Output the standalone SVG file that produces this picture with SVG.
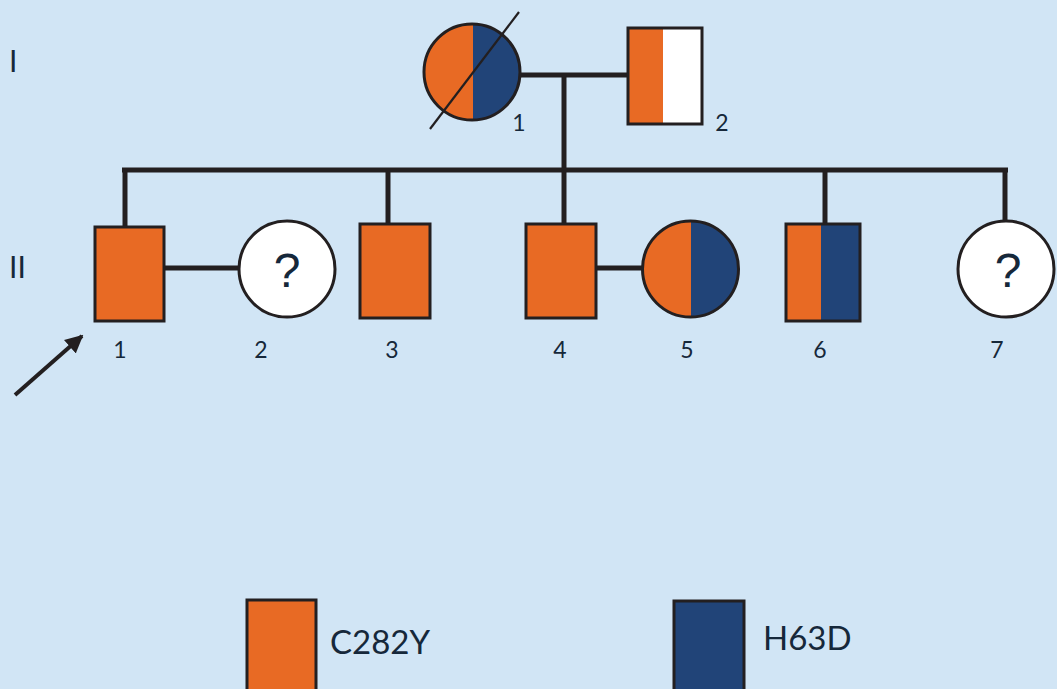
<svg xmlns="http://www.w3.org/2000/svg" width="1057" height="689" viewBox="0 0 1057 689">
<defs>
<style>
.o{fill:#e86a24}
.b{fill:#214478}
.w{fill:#ffffff}
.ol{fill:none;stroke:#231f20;stroke-width:3}
.ln{fill:none;stroke:#231f20;stroke-width:5}
.t{font-family:Lato,"Liberation Sans",sans-serif;fill:#16283a}
.lab{font-size:23px;text-anchor:middle}
.gen{font-size:30px}
text.q{font-family:"Liberation Sans",sans-serif;font-size:48px;font-weight:400;text-anchor:middle}
.leg{font-size:33px}
</style>
<clipPath id="c1"><circle cx="472" cy="72" r="48"/></clipPath>
<clipPath id="c5"><circle cx="690.5" cy="269" r="48"/></clipPath>
<marker id="ah" viewBox="0 0 10 10" refX="9" refY="5" markerWidth="4.5" markerHeight="4.5" orient="auto" markerUnits="strokeWidth"><path d="M0,0 L10,5 L0,10 z" fill="#231f20"/></marker>
</defs>
<rect width="1057" height="689" fill="#d1e5f5"/>
<g id="connectors">
<line class="ln" x1="520" y1="75" x2="628" y2="75"/>
<line class="ln" x1="564" y1="75" x2="564" y2="170"/>
<line class="ln" x1="122" y1="170" x2="1008" y2="170"/>
<line class="ln" x1="125" y1="170" x2="125" y2="227"/>
<line class="ln" x1="388" y1="170" x2="388" y2="224"/>
<line class="ln" x1="564" y1="170" x2="564" y2="224"/>
<line class="ln" x1="825" y1="170" x2="825" y2="224"/>
<line class="ln" x1="1005" y1="170" x2="1005" y2="221"/>
<line class="ln" x1="164" y1="268" x2="239" y2="268"/>
<line class="ln" x1="596" y1="268" x2="642" y2="268"/>
</g>
<g id="gen-labels">
<text class="t gen" x="9" y="72">I</text>
<text class="t gen" x="9" y="278">II</text>
</g>
<g id="I-1">
<g clip-path="url(#c1)">
<rect class="o" x="420" y="20" width="53" height="110"/>
<rect class="b" x="473" y="20" width="52" height="110"/>
</g>
<circle class="ol" cx="472" cy="72" r="48"/>
<line x1="430" y1="129" x2="519" y2="12" stroke="#231f20" stroke-width="2.2"/>
<text class="t lab" x="519" y="131">1</text>
</g>
<g id="I-2">
<rect class="o" x="628" y="28" width="35" height="96"/>
<rect class="w" x="663" y="28" width="39" height="96"/>
<rect class="ol" x="628" y="28" width="74" height="96"/>
<text class="t lab" x="722" y="131">2</text>
</g>
<g id="II-1">
<rect class="ol" x="95" y="227" width="69" height="94" style="fill:#e86a24"/>
<text class="t lab" x="120" y="358">1</text>
<line x1="15" y1="395" x2="82" y2="336" stroke="#231f20" stroke-width="4" marker-end="url(#ah)"/>
</g>
<g id="II-2">
<circle class="ol" cx="287" cy="269" r="48" style="fill:#ffffff"/>
<text class="t q" x="287" y="287">?</text>
<text class="t lab" x="261" y="358">2</text>
</g>
<g id="II-3">
<rect class="ol" x="360" y="224" width="70" height="94" style="fill:#e86a24"/>
<text class="t lab" x="392" y="358">3</text>
</g>
<g id="II-4">
<rect class="ol" x="526" y="224" width="70" height="94" style="fill:#e86a24"/>
<text class="t lab" x="560" y="358">4</text>
</g>
<g id="II-5">
<g clip-path="url(#c5)">
<rect class="o" x="640" y="218" width="51" height="104"/>
<rect class="b" x="691" y="218" width="52" height="104"/>
</g>
<circle class="ol" cx="690.5" cy="269" r="48"/>
<text class="t lab" x="687" y="358">5</text>
</g>
<g id="II-6">
<rect class="o" x="786" y="224" width="35" height="97"/>
<rect class="b" x="821" y="224" width="39" height="97"/>
<rect class="ol" x="786" y="224" width="74" height="97"/>
<text class="t lab" x="820" y="358">6</text>
</g>
<g id="II-7">
<circle class="ol" cx="1006" cy="269" r="48" style="fill:#ffffff"/>
<text class="t q" x="1008" y="287">?</text>
<text class="t lab" x="997" y="358">7</text>
</g>
<g id="legend-C282Y">
<rect class="ol" x="247" y="600" width="69" height="100" style="fill:#e86a24"/>
<text class="t leg" x="330" y="654">C282Y</text>
</g>
<g id="legend-H63D">
<rect class="ol" x="674" y="601" width="70" height="100" style="fill:#214478"/>
<text class="t leg" x="763" y="650">H63D</text>
</g>
</svg>
